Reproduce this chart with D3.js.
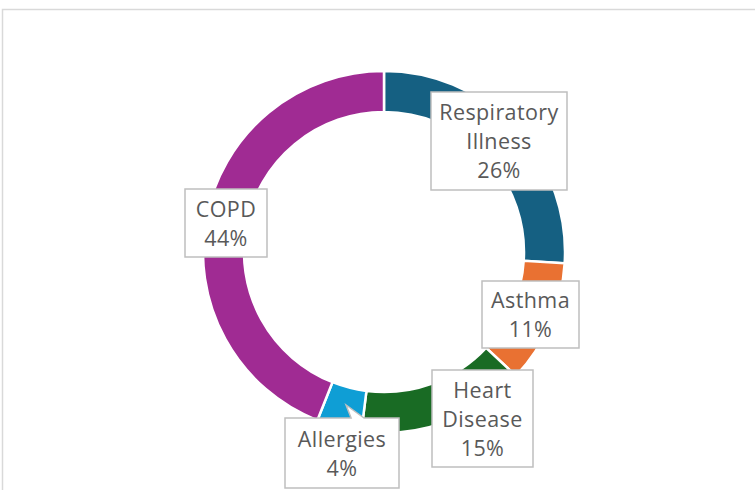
<!DOCTYPE html>
<html>
<head>
<meta charset="utf-8">
<script src="https://cdn.jsdelivr.net/npm/d3@7"></script>
<style>
  html, body { margin: 0; padding: 0; background: #fff; }
  svg { display: block; }
</style>
</head>
<body>
<svg id="chart" width="755" height="490"></svg>
<script>
// ---- data ----
const categories = ["Respiratory Illness", "Asthma", "Heart Disease", "Allergies", "COPD"];
const values = [26, 11, 15, 4, 44];
const labelLines = [["Respiratory", "Illness"], ["Asthma"], ["Heart", "Disease"], ["Allergies"], ["COPD"]];
const colors = ["#156082", "#E97132", "#196B24", "#0F9ED5", "#A02B93"];

// ---- label layout (relative to donut centre: box centre dx, dy, width, height) ----
const labelLayout = [
  { dx: 115, dy: -111, w: 136, h: 98 },
  { dx: 146.5, dy: 62.5, w: 97, h: 67 },
  { dx: 98.5, dy: 166.5, w: 101, h: 97 },
  { dx: -42, dy: 201, w: 114, h: 70, pointer: true },
  { dx: -158, dy: -29, w: 82, h: 68 }
];

const svg = d3.select("#chart");

// chart area border (extends beyond the window)
svg.append("rect")
  .attr("x", 2.5).attr("y", 9.5)
  .attr("width", 800).attr("height", 600)
  .attr("fill", "#fff")
  .attr("stroke", "#d9d9d9").attr("stroke-width", 1.5);

const cx = 384, cy = 252;
const outerR = 181, innerR = 140;

const g = svg.append("g").attr("transform", `translate(${cx},${cy})`);

const pie = d3.pie().sort(null).value(d => d.value);
const data = categories.map((c, i) => ({ name: c, value: values[i], lines: labelLines[i], color: colors[i], layout: labelLayout[i] }));
const arcs = pie(data);
const arc = d3.arc().innerRadius(innerR).outerRadius(outerR);

g.selectAll("path.slice")
  .data(arcs)
  .join("path")
  .attr("class", "slice")
  .attr("d", arc)
  .attr("fill", d => d.data.color)
  .attr("stroke", "#fff")
  .attr("stroke-width", 2.5)
  .attr("stroke-linejoin", "miter");

const total = d3.sum(values);
const fmt = v => Math.round(v / total * 100) + "%";

const lineH = 29;
const labels = g.selectAll("g.label")
  .data(arcs)
  .join("g")
  .attr("class", "label")
  .attr("transform", d => `translate(${d.data.layout.dx},${d.data.layout.dy})`);

labels.each(function(d) {
  const L = d.data.layout;
  const sel = d3.select(this);
  const x0 = -L.w / 2, y0 = -L.h / 2, x1 = L.w / 2, y1 = L.h / 2;
  let path;
  if (L.pointer) {
    // callout pointing toward the slice
    const c = arc.centroid(d);
    const tx = c[0] - L.dx + 2, ty = -L.h / 2 - 13;
    const bx = tx + 5;
    path = `M${x0},${y0} L${bx},${y0} L${tx},${ty} L${bx + 13},${y0} L${x1},${y0} L${x1},${y1} L${x0},${y1} Z`;
  } else {
    path = `M${x0},${y0} L${x1},${y0} L${x1},${y1} L${x0},${y1} Z`;
  }
  sel.append("path")
    .attr("d", path)
    .attr("fill", "#fff")
    .attr("stroke", "#bfbfbf")
    .attr("stroke-width", 1.5);

  const lines = d.data.lines.concat([fmt(d.data.value)]);
  const n = lines.length;
  sel.selectAll("text")
    .data(lines)
    .join("text")
    .attr("x", 0)
    .attr("y", (t, i) => (i - (n - 1) / 2) * lineH + 8)
    .attr("text-anchor", "middle")
    .attr("font-family", "'Open Sans', sans-serif")
    .attr("font-size", 21.5)
    .attr("letter-spacing", 0.4)
    .attr("fill", "#595959")
    .text(t => t);
});
</script>
</body>
</html>
